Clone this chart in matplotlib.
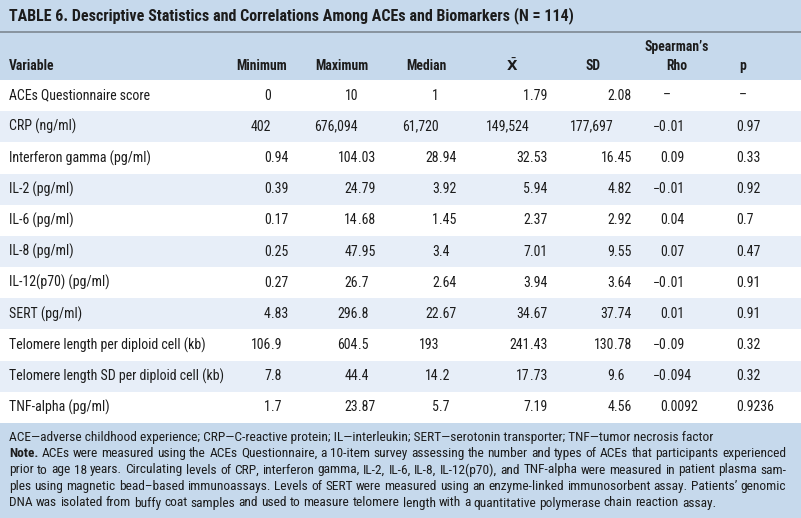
import matplotlib
matplotlib.use("Agg")
import matplotlib.pyplot as plt
from matplotlib import font_manager
from matplotlib.patches import Rectangle

# pick the narrowest family that is installed
installed = {f.name for f in font_manager.fontManager.ttflist}
base = "DejaVu Sans"
for fam in ["Liberation Sans Narrow", "Roboto Condensed", "Arial Narrow", "Roboto", "Liberation Sans"]:
    if fam in installed:
        base = fam
        break
plt.rcParams["font.family"] = [base, "DejaVu Sans"]

# ---- table content ----
title = "TABLE 6. Descriptive Statistics and Correlations Among ACEs and Biomarkers (N = 114)"
variables = [
    "ACEs Questionnaire score", "CRP (ng/ml)", "Interferon gamma (pg/ml)", "IL-2 (pg/ml)",
    "IL-6 (pg/ml)", "IL-8 (pg/ml)", "IL-12(p70) (pg/ml)", "SERT (pg/ml)",
    "Telomere length per diploid cell (kb)", "Telomere length SD per diploid cell (kb)",
    "TNF-alpha (pg/ml)",
]
minimum = ["0", "402", "0.94", "0.39", "0.17", "0.25", "0.27", "4.83", "106.9", "7.8", "1.7"]
maximum = ["10", "676,094", "104.03", "24.79", "14.68", "47.95", "26.7", "296.8", "604.5", "44.4", "23.87"]
median = ["1", "61,720", "28.94", "3.92", "1.45", "3.4", "2.64", "22.67", "193", "14.2", "5.7"]
mean = ["1.79", "149,524", "32.53", "5.94", "2.37", "7.01", "3.94", "34.67", "241.43", "17.73", "7.19"]
sd = ["2.08", "177,697", "16.45", "4.82", "2.92", "9.55", "3.64", "37.74", "130.78", "9.6", "4.56"]
rho = ["–", "\u22120.01", "0.09", "\u22120.01", "0.04", "0.07", "\u22120.01", "0.01", "\u22120.09", "\u22120.094", "0.0092"]
p_values = ["–", "0.97", "0.33", "0.92", "0.7", "0.47", "0.91", "0.91", "0.32", "0.32", "0.9236"]

col_headers = ["Minimum", "Maximum", "Median", r"$\bar{\mathbf{X}}$", "SD", "Rho", "p"]
columns = [minimum, maximum, median, mean, sd, rho, p_values]

abbrev = ("ACE\u2014adverse childhood experience; CRP\u2014C-reactive protein; IL\u2014interleukin; "
          "SERT\u2014serotonin transporter; TNF\u2014tumor necrosis factor")
note_lines = [
    "ACEs were measured using the ACEs Questionnaire, a 10-item survey assessing the number and types of ACEs that participants experienced",
    "prior to age 18 years. Circulating levels of CRP, interferon gamma, IL-2, IL-6, IL-8, IL-12(p70), and TNF-alpha were measured in patient plasma sam-",
    "ples using magnetic bead\u2013based immunoassays. Levels of SERT were measured using an enzyme-linked immunosorbent assay. Patients\u2019 genomic",
    "DNA was isolated from buffy coat samples and used to measure telomere length with a quantitative polymerase chain reaction assay.",
]

# ---- layout (pixel coordinates) ----
W, H = 801, 518
BAND = "#c6d9ec"
ALT = "#e7eef8"
TXT = "#1c1c1c"
col_dec = [271, 358, 439, 530, 614, 667, 743]      # decimal anchors
col_head_x = [262, 342, 426, 512, 593, 677, 743]   # header centers
row_top, row_bottom = 80, 423
row_h = (row_bottom - row_top) / len(variables)

fig = plt.figure(figsize=(W / 100, H / 100), dpi=100)
ax = fig.add_axes([0, 0, 1, 1])
ax.set_xlim(0, W)
ax.set_ylim(H, 0)
ax.axis("off")
renderer = fig.canvas.get_renderer()


def width(t):
    return t.get_window_extent(renderer).width


def fit_size(s, target, cap, weight="normal"):
    t = ax.text(0, -100, s, fontsize=10, fontweight=weight)
    size = 10 * target / width(t)
    t.remove()
    return min(size, cap)


fs = fit_size("Telomere length SD per diploid cell (kb)", 228, 10)
fs_head = fit_size("Minimum", 51, 10, "bold")
fs_title = fit_size(title, 566, 12.5, "bold")
fs_foot = fit_size(note_lines[-1], 703, 10)

# bands
ax.add_patch(Rectangle((0, 0), W, row_top, color=BAND, lw=0))
ax.plot([0, W], [31.5, 31.5], color="#7d8891", lw=1.2)
for i in range(len(variables)):
    if i % 2 == 1:
        ax.add_patch(Rectangle((0, row_top + i * row_h), W, row_h, color=ALT, lw=0))
ax.add_patch(Rectangle((0, row_bottom), W, H - row_bottom, color=BAND, lw=0))

# title and headers
ax.text(9, 16, title, fontsize=fs_title, fontweight="bold", color=TXT, va="center")
ax.text(9, 66, "Variable", fontsize=fs_head, fontweight="bold", color=TXT, va="center")
ax.text(col_head_x[5], 47, "Spearman\u2019s", fontsize=fs_head, fontweight="bold", color=TXT,
        va="center", ha="center")
for x, h in zip(col_head_x, col_headers):
    ax.text(x, 66, h, fontsize=fs_head, fontweight="bold", color=TXT, va="center", ha="center")

# body
for i, name in enumerate(variables):
    y = row_top + (i + 0.5) * row_h
    ax.text(9, y, name, fontsize=fs, color=TXT, va="center")
    for x, col in zip(col_dec, columns):
        s = col[i]
        if s == "–":
            ax.text(x, y, s, fontsize=fs, color=TXT, va="center", ha="center")
            continue
        if "." in s:
            ip, fp = s.split(".")
            ax.text(x, y, ip, fontsize=fs, color=TXT, va="center", ha="right")
            ax.text(x, y, "." + fp, fontsize=fs, color=TXT, va="center", ha="left")
        else:
            ax.text(x, y, s, fontsize=fs, color=TXT, va="center", ha="right")

# footer, justified like the printed note
x0, x1 = 9, 786
line_y = [437, 453.5, 470, 486.5, 503]
ax.text(x0, line_y[0], abbrev, fontsize=fs_foot, color=TXT, va="center")

probe1 = ax.text(0, -100, "a a", fontsize=fs_foot)
probe2 = ax.text(0, -100, "aa", fontsize=fs_foot)
space = width(probe1) - width(probe2)
probe1.remove()
probe2.remove()

for k, line in enumerate(note_lines):
    y = line_y[k + 1]
    items = [("Note.", "bold")] if k == 0 else []
    items += [(w, "normal") for w in line.split(" ")]
    arts = [ax.text(0, y, w, fontsize=fs_foot, fontweight=wt, color=TXT, va="center") for w, wt in items]
    widths = [width(a) for a in arts]
    gap = space
    if k < len(note_lines) - 1:
        gap = max((x1 - x0 - sum(widths)) / (len(arts) - 1), 0.6 * space)
    x = x0
    for a, wd in zip(arts, widths):
        a.set_x(x)
        x += wd + gap

fig.savefig("out.png", dpi=100)
